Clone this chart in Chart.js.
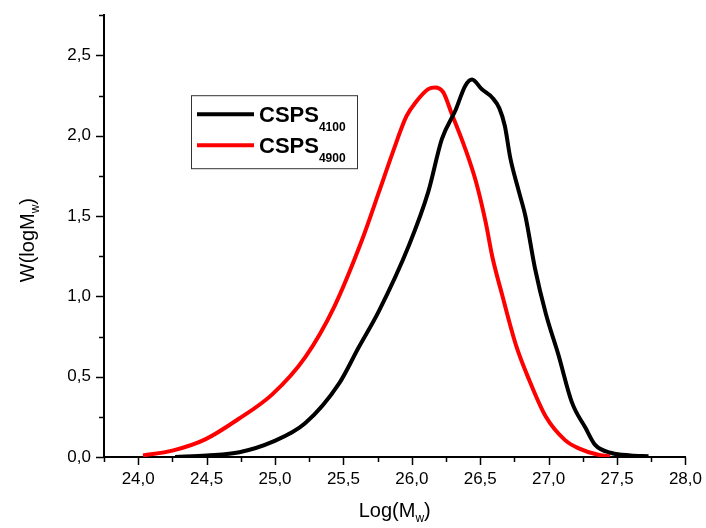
<!DOCTYPE html>
<html>
<head>
<meta charset="utf-8">
<script src="https://cdn.jsdelivr.net/npm/chart.js@4.4.0/dist/chart.umd.min.js"></script>
<style>
  html, body { margin: 0; padding: 0; background: #fff; }
  canvas { display: block; }
</style>
</head>
<body>
<canvas id="meuGrafico" width="706" height="528"></canvas>
<script>
// DADOS
var logMw4100 = [24.27, 24.50, 24.74, 24.98, 25.22, 25.47, 25.61, 25.76, 25.98, 26.12, 26.22, 26.32, 26.39, 26.44, 26.51, 26.59, 26.64, 26.68, 26.72, 26.78, 26.83, 26.90, 26.98, 27.07, 27.17, 27.27, 27.34, 27.46, 27.60, 27.73];
var w4100     = [0.000, 0.010, 0.030, 0.094, 0.210, 0.460, 0.680, 0.910, 1.320, 1.650, 1.980, 2.160, 2.310, 2.350, 2.290, 2.235, 2.170, 2.060, 1.860, 1.660, 1.500, 1.175, 0.890, 0.640, 0.340, 0.180, 0.075, 0.025, 0.010, 0.005];

var logMw4900 = [24.035, 24.25, 24.49, 24.73, 24.98, 25.22, 25.43, 25.64, 25.76, 25.86, 25.96, 26.03, 26.12, 26.17, 26.23, 26.29, 26.39, 26.47, 26.54, 26.59, 26.66, 26.76, 26.86, 26.98, 27.12, 27.22, 27.37, 27.45];
var w4900     = [0.010, 0.040, 0.110, 0.235, 0.390, 0.620, 0.930, 1.360, 1.650, 1.895, 2.120, 2.210, 2.290, 2.300, 2.270, 2.140, 1.920, 1.710, 1.460, 1.240, 1.010, 0.700, 0.475, 0.250, 0.105, 0.054, 0.012, 0.005];

var nomes = ['CSPS', 'CSPS'];
var subscritos = ['4100', '4900'];
var cores = ['#000000', '#ff0000'];

var xMin = 23.75, xMax = 28.0, xPasso = 0.25;
var yMin = 0, yMax = 2.75, yPasso = 0.25;

function pontos(xs, ys) {
    return xs.map(function (v, i) { return { x: v, y: ys[i] }; });
}

function rotulo(value) {
    var d = value * 2;
    if (Math.abs(d - Math.round(d)) > 1e-6) return '';
    return value.toFixed(1).replace('.', ',');
}

// texto com subscrito: partes = [[texto, sub?], ...]
function larguraPartes(ctx, partes, fonte, fonteSub) {
    var w = 0;
    partes.forEach(function (p) {
        ctx.font = p[1] ? fonteSub : fonte;
        w += ctx.measureText(p[0]).width;
    });
    return w;
}
function desenhaPartes(ctx, partes, x, y, fonte, fonteSub, desce) {
    partes.forEach(function (p) {
        ctx.font = p[1] ? fonteSub : fonte;
        ctx.fillText(p[0], x, p[1] ? y + desce : y);
        x += ctx.measureText(p[0]).width;
    });
}

var eixosPlugin = {
    id: 'eixos',
    afterDraw: function (chart) {
        var ctx = chart.ctx;
        var xs = chart.scales.x, ys = chart.scales.y;
        var area = chart.chartArea;
        ctx.save();

        // ticks maiores e menores
        ctx.strokeStyle = '#000';
        ctx.lineWidth = 1.5;
        xs.ticks.forEach(function (t) {
            var px = Math.round(xs.getPixelForValue(t.value)) + 0.5;
            var len = rotulo(t.value) ? 8 : 5;
            ctx.beginPath();
            ctx.moveTo(px, area.bottom);
            ctx.lineTo(px, area.bottom + len);
            ctx.stroke();
        });
        ys.ticks.forEach(function (t) {
            var py = Math.round(ys.getPixelForValue(t.value)) + 0.5;
            var len = rotulo(t.value) ? 8 : 5;
            ctx.beginPath();
            ctx.moveTo(area.left, py);
            ctx.lineTo(area.left - len, py);
            ctx.stroke();
        });

        ctx.fillStyle = '#000';
        ctx.textBaseline = 'alphabetic';

        // titulo eixo x
        var fonte = '20px "Liberation Sans", Arial, sans-serif';
        var fonteSub = '12px "Liberation Sans", Arial, sans-serif';
        var tx = [['Log(M', false], ['w', true], [')', false]];
        var wx = larguraPartes(ctx, tx, fonte, fonteSub);
        desenhaPartes(ctx, tx, (area.left + area.right) / 2 - wx / 2, 517, fonte, fonteSub, 5);

        // titulo eixo y
        var ty = [['W(logM', false], ['w', true], [')', false]];
        var wy = larguraPartes(ctx, ty, fonte, fonteSub);
        ctx.save();
        ctx.translate(34, (area.top + area.bottom) / 2 + 4);
        ctx.rotate(-Math.PI / 2);
        desenhaPartes(ctx, ty, -wy / 2, 0, fonte, fonteSub, 5);
        ctx.restore();

        // legenda
        var lx = area.left + 87, ly = area.top + 80;
        ctx.strokeStyle = '#333';
        ctx.lineWidth = 1;
        ctx.strokeRect(lx + 0.5, ly + 0.5, 166, 73);
        var fonteL = 'bold 22px "Liberation Sans", Arial, sans-serif';
        var fonteLSub = 'bold 12px "Liberation Sans", Arial, sans-serif';
        chart.data.datasets.forEach(function (ds, i) {
            var cy = ly + 19 + i * 31;
            ctx.strokeStyle = ds.borderColor;
            ctx.lineWidth = 4;
            ctx.beginPath();
            ctx.moveTo(lx + 6, cy);
            ctx.lineTo(lx + 63, cy);
            ctx.stroke();
            ctx.fillStyle = '#000';
            desenhaPartes(ctx, [[nomes[i], false], [subscritos[i], true]], lx + 68, cy + 8, fonteL, fonteLSub, 9);
        });

        ctx.restore();
    }
};

var ctxGrafico = document.getElementById('meuGrafico').getContext('2d');

var grafico = new Chart(ctxGrafico, {
    type: 'scatter',
    data: {
        datasets: [
            {
                label: nomes[0] + subscritos[0],
                data: pontos(logMw4100, w4100),
                showLine: true,
                borderColor: cores[0],
                borderWidth: 4,
                pointRadius: 0,
                cubicInterpolationMode: 'monotone',
                fill: false
            },
            {
                label: nomes[1] + subscritos[1],
                data: pontos(logMw4900, w4900),
                showLine: true,
                borderColor: cores[1],
                borderWidth: 4,
                pointRadius: 0,
                cubicInterpolationMode: 'monotone',
                fill: false
            }
        ]
    },
    options: {
        responsive: false,
        animation: false,
        devicePixelRatio: 1,
        layout: { padding: { left: 0, right: 19, top: 14, bottom: 0 } },
        plugins: {
            legend: { display: false },
            tooltip: { enabled: false }
        },
        scales: {
            x: {
                type: 'linear',
                min: xMin,
                max: xMax,
                grid: {
                    display: true,
                    drawOnChartArea: false,
                    drawTicks: true,
                    tickLength: 8,
                    tickColor: 'rgba(0,0,0,0)'
                },
                border: { display: true, color: '#000', width: 2 },
                ticks: {
                    stepSize: xPasso,
                    autoSkip: false,
                    maxRotation: 0,
                    padding: 4,
                    color: '#000',
                    font: { family: '"Liberation Sans", Arial, sans-serif', size: 17 },
                    callback: function (value) { return rotulo(value); }
                },
                afterFit: function (scale) { scale.height = 71; }
            },
            y: {
                min: yMin,
                max: yMax,
                grid: {
                    display: true,
                    drawOnChartArea: false,
                    drawTicks: true,
                    tickLength: 8,
                    tickColor: 'rgba(0,0,0,0)'
                },
                border: { display: true, color: '#000', width: 2 },
                ticks: {
                    stepSize: yPasso,
                    autoSkip: false,
                    padding: 5,
                    color: '#000',
                    font: { family: '"Liberation Sans", Arial, sans-serif', size: 17 },
                    callback: function (value) { return rotulo(value); }
                },
                afterFit: function (scale) { scale.width = 104; }
            }
        }
    },
    plugins: [eixosPlugin]
});
</script>
</body>
</html>
